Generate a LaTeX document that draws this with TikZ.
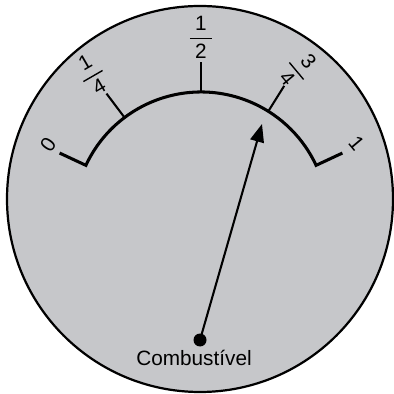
\documentclass[tikz,border=0pt]{standalone}
\usepackage{fontspec}
\setmainfont{Liberation Sans}
\usetikzlibrary{arrows.meta}
\definecolor{dialgray}{RGB}{198,199,202}
\newcommand{\gaugefrac}[2]{$\displaystyle{\hbox to 16pt{\hss#1\hss}\above 1pt\hbox to 16pt{\hss#2\hss}}$}

\begin{document}
\begin{tikzpicture}[x=0.254mm, y=0.254mm, font=\fontsize{15}{17}\selectfont,
  scaleline/.style={line width=2.2pt, line join=miter},
  tickline/.style={line width=1.5pt}]
\useasboundingbox (-201,-175) rectangle (193,219);
% dial face
\draw[fill=dialgray, line width=1.6pt] (-1,20) circle[radius=193];
% scale arc, with the 0 and 1 ticks at its ends
\draw[scaleline] (155:156) -- (155:127) arc[start angle=155, end angle=25, radius=127] -- (25:156);
% 1/4, 1/2, 3/4 ticks
\foreach \a in {127,90,58} \draw[tickline] (\a:127) -- (\a:157);
% labels
\foreach \a/\r/\rot/\txt/\nm in {154/170/55/0/labzero, 127/181/30/{\gaugefrac{1}{4}}/labquarter,
    90/182/0/{\gaugefrac{1}{2}}/labhalf, 57/178/-50/{\gaugefrac{3}{4}}/labthree, 26/173/-50/1/labone}
  \node[rotate=\rot, inner sep=0pt] (\nm) at (\a:\r) {\txt};
% needle
\coordinate (pivot) at (-1,-121);
\coordinate (tip) at (61,95);
\draw[line width=1.5pt, -{Triangle[length=13pt, width=10pt]}] (pivot) -- (tip);
\fill (pivot) circle[radius=6.5];
\node[font=\fontsize{15}{18}\selectfont] (fuel) at (-7,-139) {Combustível};
\end{tikzpicture}
\end{document}
